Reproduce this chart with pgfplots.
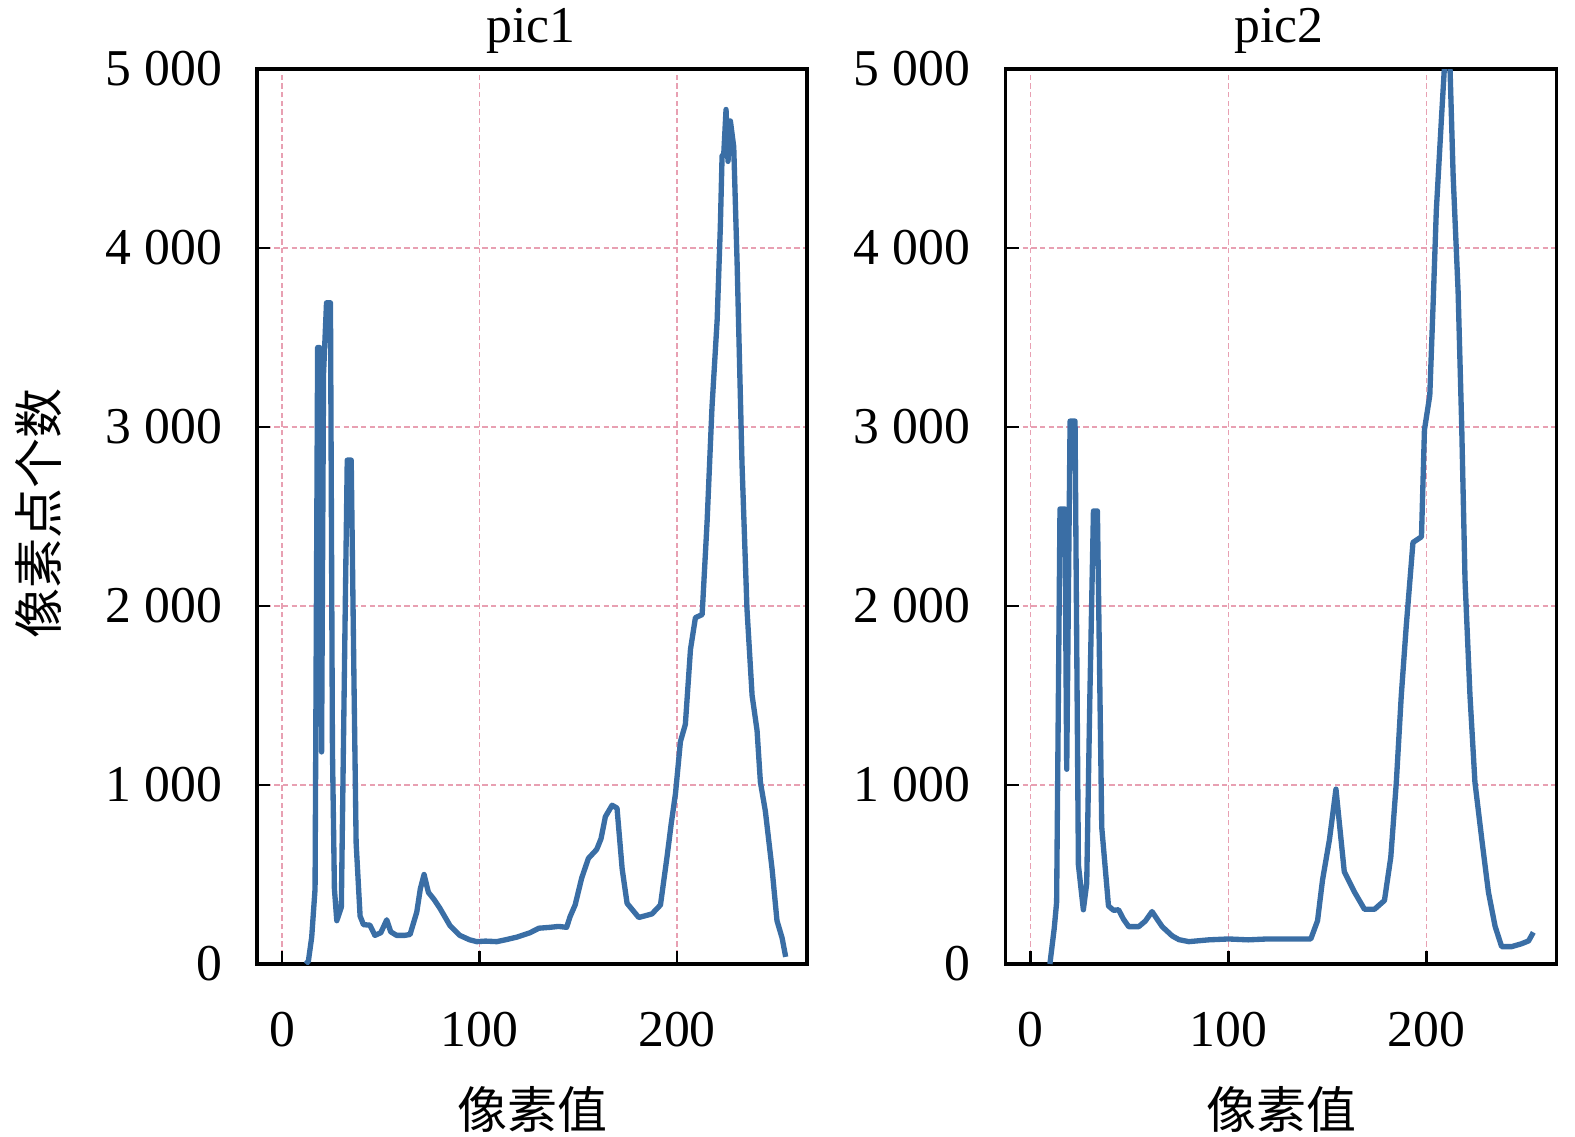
\documentclass[border=0pt]{standalone}
\usepackage{fontspec}
\setmainfont{Liberation Serif}
\newfontfamily\cjk{Noto Sans CJK SC}
\usepackage{pgfplots}
\pgfplotsset{compat=1.18}
\definecolor{histline}{RGB}{58,110,165}
\definecolor{gridc}{RGB}{232,160,178}
\pgfplotsset{hist/.style={
  scale only axis, width=165pt, height=268.5pt,
  xmin=-12.7, xmax=265.8, ymin=0, ymax=5000,
  xtick={0,100,200}, ytick={0,1000,2000,3000,4000,5000},
  tick align=inside, xtick pos=lower, ytick pos=left,
  major tick length=4pt,
  every tick/.style={black, line width=0.7pt},
  axis line style={black, line width=1pt},
  grid=major,
  major grid style={gridc, line width=0.4pt, dash pattern=on 1.6pt off 1pt},
  /pgf/number format/assume math mode=true,
  /pgf/number format/1000 sep={\hspace{0.25em}},
  scaled y ticks=false,
  tick label style={font=\fontsize{15.5}{18}\selectfont},
  yticklabel style={xshift=-7pt},
  xticklabel style={yshift=-11pt},
  xlabel style={at={(axis description cs:0.5,-0.162)}, anchor=center, font=\cjk\fontsize{15}{18}\selectfont},
  ylabel style={at={(axis description cs:-0.398,0.503)}, rotate=0, anchor=center, font=\cjk\fontsize{15}{18}\selectfont},
}}
\begin{document}
\begin{tikzpicture}
\useasboundingbox (0,0) rectangle (472.5pt,340.8pt);
\begin{axis}[hist, at={(77.1pt,51.6pt)}, anchor=south west,
  xlabel={像素值}, ylabel={像素点个数}]
\addplot[histline, line width=1.6pt, line join=round] table {
12 0
13.3 15
15 150
16.7 420
18 3444
19 3444
20 1185
21 3300
22.5 3694
24.5 3694
25.5 1200
26.5 420
27.7 242
30 318
32 2000
33 2815
35 2815
36.5 1500
37.5 675
39.5 268
41.2 220
44.5 217
47 160
50 175
53 247
55 180
58 160
62 160
64.8 165
68.2 290
70 420
71.9 500
73 450
74.1 400
77 360
80 310
85 215
90 160
95 135
98.6 125
103 128
108.7 125
113 135
118.8 150
125.6 175
130 200
135.7 205
140 210
144.1 205
145.8 264
148.4 330
151.7 480
155.1 590
159.3 640
161.5 700
163.7 823
167.1 887
169.6 871
172.2 532
174.7 339
180.6 260
184 270
187.3 280
191.6 330
194.9 597
197 780
199.2 952
201.7 1242
204.2 1339
206.8 1758
209.3 1935
212.7 1952
215.2 2468
217.7 3113
220.3 3597
221.9 4113
222.8 4516
223.6 4516
224.8 4774
225.8 4484
227 4710
228.7 4565
230.4 3919
232.9 2790
235.4 1984
238 1500
240.5 1306
242.2 1016
244.7 855
248.1 532
250.6 242
253.2 145
255 40
};
\end{axis}
\begin{axis}[hist, at={(301.6pt,51.6pt)}, anchor=south west, width=165.4pt,
  xlabel={像素值}]
\addplot[histline, line width=1.6pt, line join=round] table {
9.8 0
12 200
13.2 345
14.9 2542
17.4 2542
18.3 1088
20 3033
22.5 3033
24.2 554
26.7 303
28.4 450
30 1500
31.8 2531
33.8 2531
36 763
39.4 324
42 300
44.5 303
47 250
49.6 209
54.7 209
58 240
61.4 293
64 250
66.5 209
71.6 157
75 136
80 125
90 135
100 140
110 135
119.6 140
130 140
141.6 140
145 242
147.5 468
151 694
154.3 977
156 790
158.5 516
163.6 403
168.7 306
173.8 306
178.8 355
182 597
184.8 1016
187.3 1500
189.8 1887
193.2 2355
197.5 2387
199 2984
201.7 3177
203.4 3694
205 4210
207.6 4726
209.3 5050
211.8 5050
213.5 4403
216 3758
217.8 3016
219.5 2145
222 1500
224.5 1016
228 694
231.3 403
234.7 210
238 97
243 97
248 113
251.6 129
254 177
};
\end{axis}
\node[font=\fontsize{15.5}{18}\selectfont, anchor=center] at (159.3pt,331.6pt) {pic1};
\node[font=\fontsize{15.5}{18}\selectfont, anchor=center] at (383.7pt,331.6pt) {pic2};
\end{tikzpicture}
\end{document}
